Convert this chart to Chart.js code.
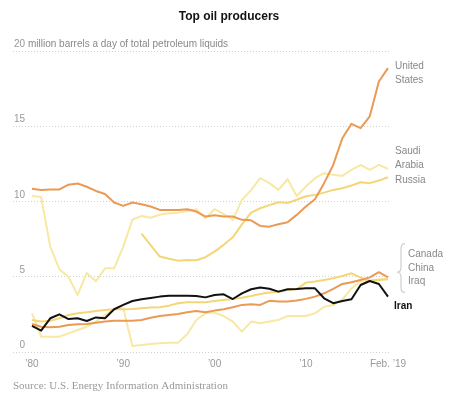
<!DOCTYPE html>
<html>
<head>
<meta charset="utf-8">
<script src="https://cdn.jsdelivr.net/npm/chart.js@4.4.1/dist/chart.umd.min.js"></script>
<style>
  body { margin: 0; background: #fff; }
  #box { position: relative; width: 463px; height: 399px; }
</style>
</head>
<body>
<div id="box"><canvas id="chart"></canvas></div>
<script>
// years on the x axis
const years = [1980, 1981, 1982, 1983, 1984, 1985, 1986, 1987, 1988, 1989,
  1990, 1991, 1992, 1993, 1994, 1995, 1996, 1997, 1998, 1999,
  2000, 2001, 2002, 2003, 2004, 2005, 2006, 2007, 2008, 2009,
  2010, 2011, 2012, 2013, 2014, 2015, 2016, 2017, 2018, 2019]

// million barrels a day
const unitedStates = [10.84, 10.77, 10.8, 10.8, 11.12, 11.2, 10.98, 10.7, 10.5, 9.93,
  9.71, 9.93, 9.82, 9.67, 9.44, 9.44, 9.44, 9.49, 9.33, 9.0,
  9.08, 9.0, 9.0, 8.78, 8.75, 8.38, 8.33, 8.49, 8.62, 9.11,
  9.67, 10.15, 11.22, 12.43, 14.2, 15.16, 14.87, 15.65, 17.97, 18.86]
const saudiArabia = [10.37, 10.3, 7.0, 5.5, 4.99, 3.79, 5.25, 4.7, 5.56, 5.56,
  7.0, 8.8, 9.04, 8.92, 9.12, 9.22, 9.26, 9.37, 9.49, 8.89,
  9.49, 9.17, 8.78, 10.11, 10.75, 11.55, 11.22, 10.77, 11.48, 10.37,
  10.99, 11.55, 11.88, 11.77, 11.7, 12.1, 12.43, 12.1, 12.43, 12.17]
const russia = [null, null, null, null, null, null, null, null, null, null,
  null, null, 7.86, 7.1, 6.34, 6.2, 6.07, 6.12, 6.1, 6.3,
  6.67, 7.12, 7.62, 8.48, 9.26, 9.55, 9.76, 9.95, 9.9, 10.12,
  10.35, 10.44, 10.59, 10.77, 10.88, 11.06, 11.28, 11.22, 11.39, 11.61]
const canada = [1.86, 1.68, 1.64, 1.68, 1.79, 1.84, 1.86, 1.95, 2.02, 2.08,
  2.07, 2.08, 2.13, 2.28, 2.39, 2.46, 2.53, 2.64, 2.73, 2.64,
  2.75, 2.84, 2.97, 3.13, 3.17, 3.13, 3.4, 3.35, 3.35, 3.42,
  3.53, 3.68, 3.9, 4.19, 4.52, 4.63, 4.79, 4.96, 5.3, 4.96]
const china = [2.13, 2.02, 2.08, 2.24, 2.46, 2.57, 2.64, 2.73, 2.79, 2.84,
  2.84, 2.86, 2.9, 2.95, 2.97, 3.08, 3.24, 3.3, 3.3, 3.3,
  3.39, 3.46, 3.52, 3.61, 3.72, 3.86, 3.95, 4.01, 4.12, 4.17,
  4.61, 4.68, 4.79, 4.9, 5.05, 5.23, 4.94, 4.74, 4.79, 4.83]
const iraq = [2.57, 1.02, 1.02, 1.02, 1.24, 1.46, 1.68, 2.02, 2.46, 2.84,
  2.9, 0.4, 0.47, 0.53, 0.58, 0.62, 0.62, 1.18, 2.13, 2.57,
  2.62, 2.39, 2.02, 1.35, 2.02, 1.91, 2.02, 2.13, 2.39, 2.39,
  2.39, 2.57, 3.01, 3.12, 3.5, 4.23, 4.68, 4.74, 4.83, 4.83]
const iran = [1.73, 1.42, 2.24, 2.5, 2.19, 2.24, 2.06, 2.3, 2.24, 2.84,
  3.13, 3.39, 3.5, 3.59, 3.68, 3.74, 3.74, 3.74, 3.72, 3.63,
  3.79, 3.83, 3.52, 3.9, 4.17, 4.28, 4.2, 4.01, 4.17, 4.19,
  4.23, 4.23, 3.57, 3.24, 3.39, 3.5, 4.45, 4.72, 4.52, 3.68]

// tick labels
const yTicks = [0, 5, 10, 15, 20]
const xTicks = [1980, 1990, 2000, 2010, 2019]
const xTickLabels = ['\u201980', '\u201990', '\u201900', '\u201910', 'Feb. \u201919']

const ORANGE = '#ea9a55'
const YELLOW = '#f5d677'
const PALE = '#f8e8a2'

// Iran first so it's drawn on top
const series = [
  { label: 'Iran', values: iran, color: '#111111', width: 2 },
  { label: 'United States', values: unitedStates, color: ORANGE, width: 2 },
  { label: 'Canada', values: canada, color: ORANGE, width: 2 },
  { label: 'Russia', values: russia, color: YELLOW, width: 2 },
  { label: 'China', values: china, color: YELLOW, width: 2 },
  { label: 'Saudi Arabia', values: saudiArabia, color: PALE, width: 2 },
  { label: 'Iraq', values: iraq, color: PALE, width: 2 },
]

const datasets = series.map(s => ({
  label: s.label,
  data: s.values.map((v, i) => ({ x: years[i], y: v })),
  borderColor: s.color,
  borderWidth: s.width,
  pointRadius: 0,
  tension: 0,
  borderJoinStyle: 'round',
  fill: false
}))

const SANS = '"Liberation Sans", Arial, sans-serif'

// end labels, anchored on a value of the y scale
const endLabels = [
  { lines: ['United', 'States'], at: 18.8, x: 4, color: '#888', bold: false },
  { lines: ['Saudi', 'Arabia'], at: 13.15, x: 4, color: '#888', bold: false },
  { lines: ['Russia'], at: 11.2, x: 4, color: '#888', bold: false },
  { lines: ['Canada', 'China', 'Iraq'], at: 6.3, x: 17, color: '#888', bold: false },
  { lines: ['Iran'], at: 2.85, x: 3, color: '#111', bold: true },
]

const textPlugin = {
  id: 'texts',
  afterDraw(chart) {
    const { ctx, chartArea } = chart
    const x = chart.scales.x, y = chart.scales.y
    ctx.save()

    // title
    ctx.fillStyle = '#121212'
    ctx.font = 'bold 12px ' + SANS
    ctx.textAlign = 'center'
    ctx.textBaseline = 'alphabetic'
    ctx.fillText('Top oil producers', 229, 20)

    // y tick labels, sitting above the grid lines
    ctx.font = '10px ' + SANS
    ctx.fillStyle = '#999'
    ctx.textAlign = 'right'
    yTicks.forEach(t => {
      ctx.fillText(String(t), chartArea.left + 12, y.getPixelForValue(t) - 4)
    })
    ctx.textAlign = 'left'
    ctx.fillStyle = '#888'
    ctx.fillText('million barrels a day of total petroleum liquids', chartArea.left + 15, y.getPixelForValue(20) - 4)

    // x tick labels
    ctx.fillStyle = '#999'
    ctx.textAlign = 'center'
    xTicks.forEach((t, i) => {
      ctx.fillText(xTickLabels[i], x.getPixelForValue(t), chartArea.bottom + 15)
    })

    // source
    ctx.textAlign = 'left'
    ctx.font = '11px "Liberation Serif", "Times New Roman", serif'
    ctx.fillStyle = '#999'
    ctx.fillText('Source: U.S. Energy Information Administration', chartArea.left, chartArea.bottom + 37)

    // end labels
    endLabels.forEach(l => {
      ctx.font = (l.bold ? 'bold ' : '') + '10px ' + SANS
      ctx.fillStyle = l.color
      const base = y.getPixelForValue(l.at)
      l.lines.forEach((line, k) => {
        ctx.fillText(line, chartArea.right + l.x, base + k * 13.5)
      })
    })

    // brace next to Canada / China / Iraq
    const top = y.getPixelForValue(7.2), bot = y.getPixelForValue(3.95)
    const mid = y.getPixelForValue(5.3)
    const bx = chartArea.right + 14, vx = chartArea.right + 10, tip = chartArea.right + 6
    ctx.strokeStyle = '#cfcfcf'
    ctx.lineWidth = 1.2
    ctx.beginPath()
    ctx.moveTo(bx, top)
    ctx.quadraticCurveTo(vx, top, vx, top + 5)
    ctx.lineTo(vx, mid - 5)
    ctx.quadraticCurveTo(vx, mid, tip, mid)
    ctx.quadraticCurveTo(vx, mid, vx, mid + 5)
    ctx.lineTo(vx, bot - 5)
    ctx.quadraticCurveTo(vx, bot, bx, bot)
    ctx.stroke()

    ctx.restore()
  }
}

new Chart(document.getElementById('chart'), {
  type: 'line',
  data: { datasets: datasets },
  options: {
    responsive: true,
    maintainAspectRatio: false,
    animation: false,
    layout: { padding: { left: 13, right: 72, top: 51, bottom: 47 } },
    plugins: { legend: { display: false }, tooltip: { enabled: false } },
    scales: {
      x: {
        type: 'linear',
        min: 1977.92,
        max: 2019.33,
        grid: { display: false, drawTicks: false },
        border: { display: false },
        ticks: { display: false }
      },
      y: {
        min: 0,
        max: 20,
        ticks: { display: false, stepSize: 5 },
        grid: { color: '#d0d0d0', drawTicks: false, lineWidth: 1 },
        border: { display: false, dash: [1, 2] }
      }
    }
  },
  plugins: [textPlugin]
})
</script>
</body>
</html>
